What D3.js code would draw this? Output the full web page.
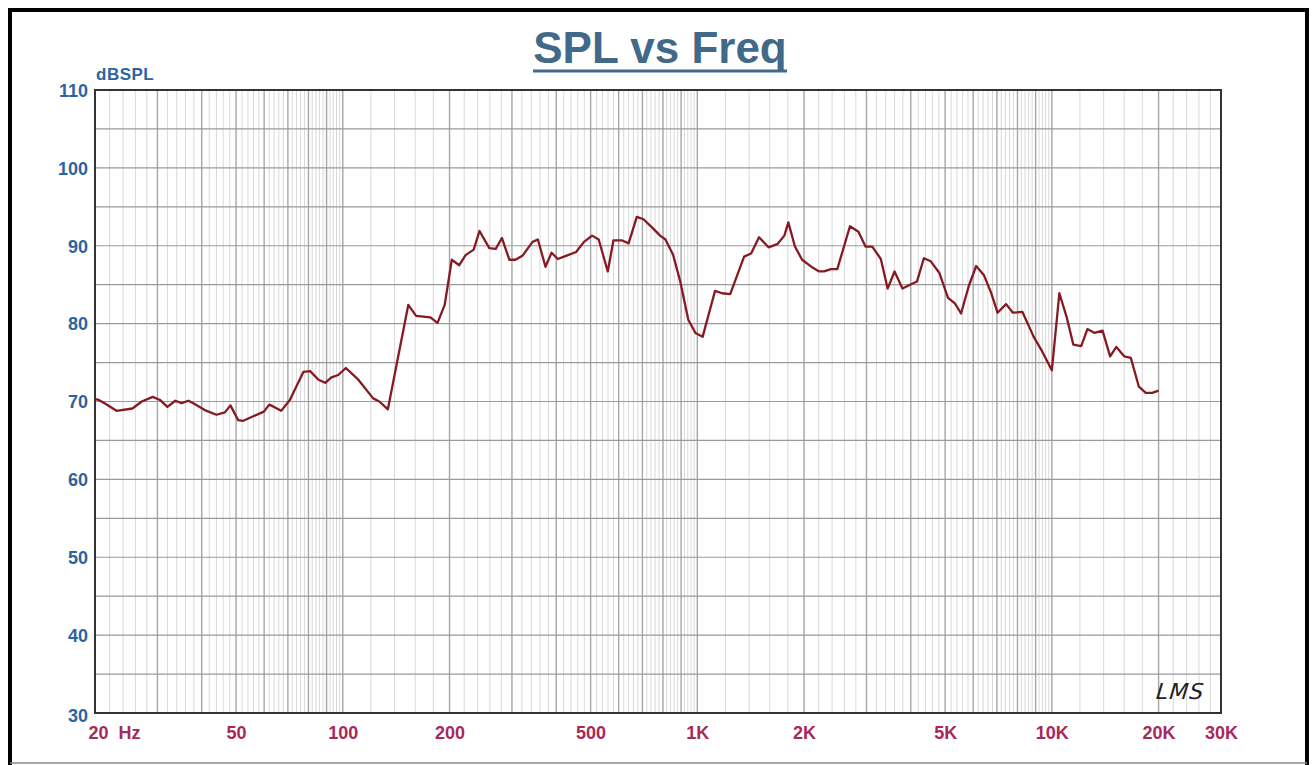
<!DOCTYPE html>
<html>
<head>
<meta charset="utf-8">
<script src="https://cdn.jsdelivr.net/npm/d3@7"></script>
<style>
  html, body { margin: 0; padding: 0; background: #fff; }
  svg { display: block; font-family: "Liberation Sans", Arial, sans-serif; }
</style>
</head>
<body>
<svg id="chart" width="1316" height="765"></svg>
<script>
// frequency response (Hz / dB SPL)
const freq = [20, 20.5, 21.4, 23, 25.5, 27.1, 29.1, 30.5, 32, 33.7, 35.1, 36.7, 38.1, 40.8, 44, 46.5, 48.2,
  50.7, 52.2, 55.9, 59.9, 62, 63.4, 67, 70.9, 77.4, 80.9, 85.4, 89.2, 92.9, 97.1, 102, 110.6, 121.8, 126.8,
  134, 153, 161, 176.6, 185, 193.8, 203, 213, 222, 234, 243, 259, 270, 281, 295, 307, 321, 343, 355, 373,
  388, 404, 426, 455, 479, 505, 527, 559, 580, 612, 640, 675, 705, 751, 785, 813, 855, 895, 943, 988,
  1035, 1122, 1174, 1238, 1355, 1418, 1493, 1588, 1681, 1760, 1806, 1885, 1975, 2114, 2206, 2277, 2382,
  2482, 2695, 2848, 2980, 3115, 3293, 3442, 3600, 3790, 3980, 4164, 4355, 4555, 4818, 5095, 5328, 5545,
  5827, 6117, 6436, 6723, 7029, 7430, 7766, 8262, 8890, 9400, 10000, 10500, 11000, 11500, 12100, 12600,
  13200, 13900, 14600, 15200, 16000, 16700, 17600, 18400, 19200, 20000];
const spl = [70.3, 70.2, 69.7, 68.8, 69.1, 70.0, 70.6, 70.2, 69.3, 70.1, 69.8, 70.1, 69.7, 68.9, 68.3, 68.6, 69.5,
  67.6, 67.5, 68.1, 68.7, 69.6, 69.4, 68.8, 70.2, 73.8, 73.9, 72.8, 72.4, 73.1, 73.4, 74.3, 72.8, 70.4, 70.0,
  69.0, 82.4, 81.0, 80.8, 80.1, 82.4, 88.2, 87.5, 88.8, 89.5, 91.9, 89.7, 89.6, 91.0, 88.2, 88.2, 88.7, 90.5,
  90.8, 87.3, 89.1, 88.3, 88.7, 89.2, 90.5, 91.3, 90.8, 86.7, 90.7, 90.7, 90.3, 93.7, 93.4, 92.2, 91.3, 90.8,
  88.8, 85.4, 80.5, 78.8, 78.3, 84.2, 83.9, 83.8, 88.6, 89.0, 91.1, 89.8, 90.2, 91.3, 93.0, 89.9, 88.2, 87.2,
  86.7, 86.7, 87.0, 87.0, 92.5, 91.8, 89.9, 89.9, 88.3, 84.5, 86.7, 84.5, 85.0, 85.4, 88.4, 88.0, 86.5, 83.3,
  82.6, 81.3, 84.8, 87.4, 86.2, 84.1, 81.4, 82.5, 81.4, 81.5, 78.3, 76.4, 74.0, 83.9, 80.9, 77.3, 77.1, 79.3,
  78.8, 79.1, 75.8, 77.0, 75.8, 75.6, 71.9, 71.1, 71.1, 71.4];

const xTickValues = [20, 50, 100, 200, 500, 1000, 2000, 5000, 10000, 20000, 30000];
const xTickLabels = ["20  Hz", "50", "100", "200", "500", "1K", "2K", "5K", "10K", "20K", "30K"];
const yTickValues = [30, 40, 50, 60, 70, 80, 90, 100, 110];

const svg = d3.select("#chart");
const W = 1316, H = 765;
const plot = { left: 95, top: 90, right: 1221, bottom: 713 };

const x = d3.scaleLog().domain([20, 30000]).range([plot.left, plot.right]);
const y = d3.scaleLinear().domain([30, 110]).range([plot.bottom, plot.top]);

// outer frame
svg.append("path")
  .attr("d", `M10,${H + 5} V10 H1307 V${H + 5}`)
  .attr("fill", "none").attr("stroke", "#000").attr("stroke-width", 4);
svg.append("line").attr("x1", 10).attr("x2", 1307).attr("y1", 763).attr("y2", 763)
  .attr("stroke", "#888").attr("stroke-width", 1.5);

// vertical grid: linear steps inside each decade
const gridF = [];
[[20, 100, 2], [100, 1000, 20], [1000, 10000, 200], [10000, 30000, 2000]].forEach(([a, b, s]) => {
  for (let f = a; f < b - 1e-9; f += s) gridF.push(+f.toFixed(3));
});
gridF.push(30000);
const isMajor = f => {
  const d = Math.pow(10, Math.floor(Math.log10(f) + 1e-9));
  return Math.abs(f / d - Math.round(f / d)) < 1e-6;
};

const grid = svg.append("g");
grid.selectAll("line.v").data(gridF).join("line")
  .attr("x1", d => x(d)).attr("x2", d => x(d))
  .attr("y1", plot.top).attr("y2", plot.bottom)
  .attr("stroke", d => isMajor(d) ? "#a6a6a6" : "#d9d9d9")
  .attr("stroke-width", d => isMajor(d) ? 1.4 : 1);

grid.selectAll("line.h").data(d3.range(35, 110, 5)).join("line")
  .attr("x1", plot.left).attr("x2", plot.right)
  .attr("y1", d => y(d)).attr("y2", d => y(d))
  .attr("stroke", "#9a9a9a").attr("stroke-width", 1.2);

// plot border
svg.append("rect")
  .attr("x", plot.left).attr("y", plot.top)
  .attr("width", plot.right - plot.left).attr("height", plot.bottom - plot.top)
  .attr("fill", "none").attr("stroke", "#333").attr("stroke-width", 2);

// curve
const line = d3.line().x((d, i) => x(freq[i])).y(d => y(d)).curve(d3.curveLinear);
svg.append("path").datum(spl)
  .attr("d", line)
  .attr("fill", "none")
  .attr("stroke", "#861a22")
  .attr("stroke-width", 2.3)
  .attr("stroke-linejoin", "round");

// axes
const yAxis = d3.axisLeft(y).tickValues(yTickValues).tickSize(0).tickPadding(7);
svg.append("g").attr("transform", `translate(${plot.left},0)`).call(yAxis)
  .call(g => g.select(".domain").remove())
  .call(g => g.selectAll("text")
    .attr("fill", "#2d64a0").attr("font-size", 18).attr("font-weight", "bold")
    .attr("font-family", "Liberation Sans, Arial, sans-serif")
    .attr("dy", d => d === 30 ? "0.45em" : "0.35em"));

const xAxis = d3.axisBottom(x).tickValues(xTickValues).tickSize(0).tickPadding(13)
  .tickFormat((d, i) => xTickLabels[i]);
svg.append("g").attr("transform", `translate(0,${plot.bottom})`).call(xAxis)
  .call(g => g.select(".domain").remove())
  .call(g => g.selectAll("text")
    .attr("fill", "#a8285a").attr("font-size", 18).attr("font-weight", "bold")
    .attr("font-family", "Liberation Sans, Arial, sans-serif")
    .attr("text-anchor", d => d === 20 ? "start" : "middle")
    .attr("dx", d => d === 20 ? "-7" : 0)
    .style("white-space", "pre").attr("xml:space", "preserve"));

// unit label
svg.append("text").attr("x", 96).attr("y", 80)
  .attr("fill", "#2d64a0").attr("font-size", 17).attr("font-weight", "bold")
  .attr("letter-spacing", 0.5)
  .text("dBSPL");

// title
svg.append("text").attr("x", 660).attr("y", 63)
  .attr("text-anchor", "middle")
  .attr("fill", "#41698a").attr("font-size", 44).attr("font-weight", "bold")
  .text("SPL vs Freq");
svg.append("line").attr("x1", 533).attr("x2", 787).attr("y1", 71).attr("y2", 71)
  .attr("stroke", "#41698a").attr("stroke-width", 3);

// signature
svg.append("text").attr("x", 1157).attr("y", 699)
  .attr("font-family", "DejaVu Sans, sans-serif")
  .attr("font-style", "italic").attr("font-size", 22).attr("letter-spacing", 1)
  .attr("fill", "#222").attr("transform", "skewX(-6)")
  .attr("dx", 72)
  .text("LMS");
</script>
</body>
</html>
